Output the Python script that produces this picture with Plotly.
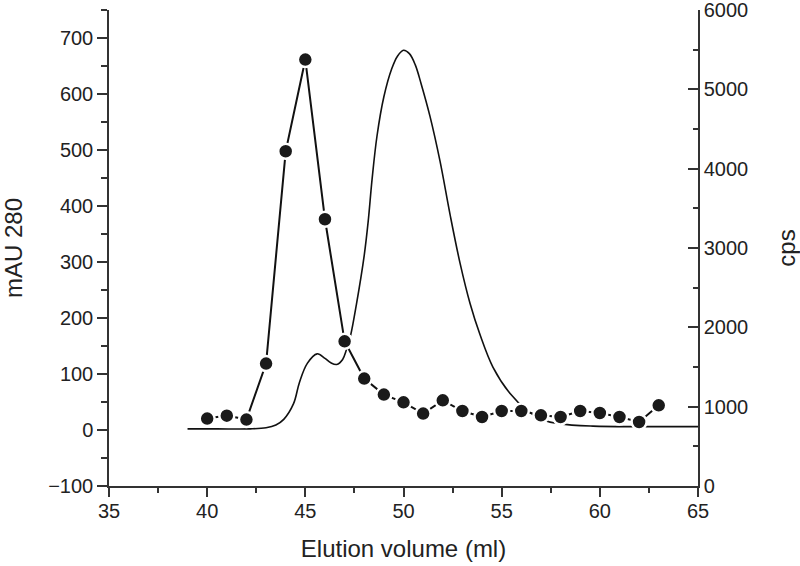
"""Elution profile: UV absorbance (mAU 280) and radioactivity (cps)."""

import plotly.graph_objects as go

# UV trace (ml, mAU 280)
uv_volume = [39.0, 40.5, 42.2, 43.0, 43.5, 43.9, 44.4, 44.7, 45.1, 45.6, 46.0,
             46.3, 46.6, 46.9, 47.1, 47.3, 47.6, 48.0, 48.2, 48.4, 48.65, 49.0,
             49.4, 49.7, 50.0, 50.3, 50.6, 50.9, 51.35, 51.86, 52.37, 52.88,
             53.39, 53.9, 54.56, 55.43, 56.29, 57.11, 57.97, 59.65, 62.05, 65.0]
uv_mau = [2, 2, 2, 4, 9, 19, 47, 85, 119, 136, 128,
          120, 117, 126, 144, 168, 224, 312, 372, 448, 525, 595,
          645, 668, 678, 672, 652, 618, 560, 480, 385, 298,
          226, 170, 112, 65, 35, 18, 11, 7, 6, 6]

# fractions counted (ml, cps)
frac_volume = [40, 41, 42, 43, 44, 45, 46, 47, 48, 49, 50, 51,
               52, 53, 54, 55, 56, 57, 58, 59, 60, 61, 62, 63]
frac_cps = [850, 887, 837, 1543, 4219, 5375, 3362, 1824, 1354, 1152, 1055, 913,
            1080, 945, 870, 945, 945, 891, 870, 945, 920, 870, 807, 1017]

AXIS_COLOR = "#333333"
TEXT_COLOR = "#222222"
FONT = "Liberation Sans, Arial, sans-serif"

fig = go.Figure()
fig.add_trace(
    go.Scatter(
        x=uv_volume,
        y=uv_mau,
        mode="lines",
        line=dict(color="#111111", width=1.6, shape="spline", smoothing=1.0),
        name="mAU 280",
        yaxis="y",
    )
)
fig.add_trace(
    go.Scatter(
        x=frac_volume,
        y=frac_cps,
        mode="lines+markers",
        line=dict(color="#111111", width=2),
        marker=dict(size=15, color="#1a1a1a", line=dict(color="white", width=2.5)),
        name="cps",
        yaxis="y2",
    )
)

axis_common = dict(
    showline=True,
    linecolor=AXIS_COLOR,
    linewidth=1.5,
    showgrid=False,
    zeroline=False,
    automargin=False,
    ticklabeloverflow="allow",
    tickcolor=AXIS_COLOR,
    tickwidth=1.5,
    ticklen=10,
    tickfont=dict(size=20, color=TEXT_COLOR, family=FONT),
    title_font=dict(size=24, color=TEXT_COLOR, family=FONT),
)

fig.update_layout(
    width=800,
    height=566,
    margin=dict(l=109, r=102, t=10, b=80, autoexpand=False),
    plot_bgcolor="white",
    paper_bgcolor="white",
    showlegend=False,
    xaxis=dict(
        axis_common,
        range=[35, 65],
        dtick=5,
        ticks="outside",
        ticklen=9,
        ticklabelstandoff=-3,
        minor=dict(dtick=2.5, ticks="outside", ticklen=5, tickcolor=AXIS_COLOR, tickwidth=1.5),
        title=dict(text="Elution volume (ml)", standoff=19),
    ),
    yaxis=dict(
        axis_common,
        range=[-100, 750],
        tickvals=[-100, 0, 100, 200, 300, 400, 500, 600, 700],
        ticktext=["\u2212100", "0", "100", "200", "300", "400", "500", "600", "700"],
        ticks="outside",
        minor=dict(dtick=50, ticks="outside", ticklen=6, tickcolor=AXIS_COLOR, tickwidth=1.5),
        title=dict(text="mAU 280", standoff=24),
    ),
    yaxis2=dict(
        axis_common,
        range=[0, 6000],
        dtick=1000,
        overlaying="y",
        side="right",
        ticks="inside",
        minor=dict(dtick=500, ticks="inside", ticklen=5, tickcolor=AXIS_COLOR, tickwidth=1.5),
        title=dict(text="cps", standoff=32),
    ),
)

# drop the default page margin so the figure sits at the window's corner
fig.write_html(
    "out.html",
    config={"displayModeBar": False},
    post_script="document.body.style.margin = '0';",
)
